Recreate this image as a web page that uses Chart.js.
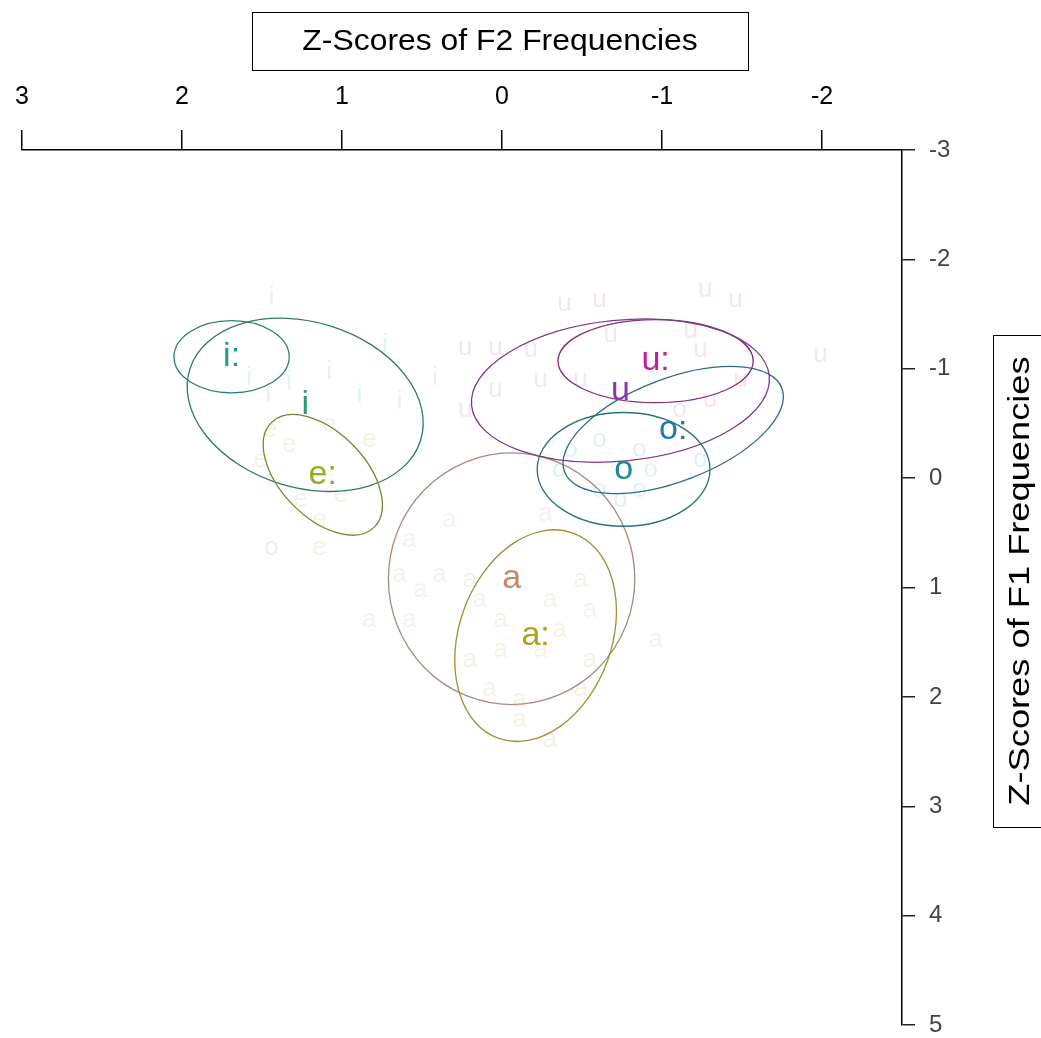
<!DOCTYPE html>
<html>
<head>
<meta charset="utf-8">
<script src="https://cdn.jsdelivr.net/npm/chart.js@4.4.0/dist/chart.umd.min.js"></script>
<style>
html, body { margin: 0; padding: 0; background: #fff; }
#wrap { width: 1041px; height: 1038px; position: relative; }
</style>
</head>
<body>
<div id="wrap"><canvas id="vowel-chart"></canvas></div>
<script>
// tick labels
var f2Ticks = [3, 2, 1, 0, -1, -2];
var f1Ticks = [-3, -2, -1, 0, 1, 2, 3, 4, 5];

// vowel categories, their means (F2 z, F1 z)
var vowels = ["i:", "i", "e:", "a", "a:", "u:", "u", "o:", "o"];
var meanF2 = [1.69, 1.23, 1.12, -0.06, -0.21, -0.96, -0.74, -1.07, -0.76];
var meanF1 = [-1.11, -0.67, -0.03, 0.92, 1.44, -1.07, -0.80, -0.44, -0.08];
// ellipse half axes as two conjugate vectors (z units)
var ellUx = [0.36, -0.72, -0.32, 0.77, -0.45, 0.61, -0.93, -0.68, 0.54];
var ellUy = [0.00, 0.33, 0.48, 0.00, 0.23, 0.00, -0.14, -0.38, 0.00];
var ellVx = [0.00, 0.16, 0.19, 0.00, 0.23, 0.00, -0.05, -0.11, 0.00];
var ellVy = [0.33, 0.72, 0.27, 1.15, 0.94, 0.38, 0.64, 0.44, 0.52];

var labelColors = ["#1f9a8c", "#2a9a6e", "#8cb020", "#c4876a", "#b0a020", "#c0209a", "#8a3aa8", "#1f78b4", "#1a8a8a"];
var ellipseColors = ["#2c7f74", "#2e7a66", "#6e8a2c", "#a58c80", "#9a9436", "#8a2a78", "#7a3a88", "#2f6a8a", "#2a7478"];

// individual tokens (faint)
var tokenVowel = ["i","i","i","i","i","i","i","i","i",
  "e:","e:","e:","e:","e:","e:","e:","e:","e:","o",
  "u","u:","u:","u:","u","u","u","u","u:","u:","u:","u","u","u","u","u:","u:","o:",
  "o","o","o:","o:","o","o:","o:","o","o",
  "a","a","a","a","a","a","a","a","a","a","a:","a:","a","a:","a:","a:","a:","a:","a:","a:","a:","a:","a:","a","a:"];
var tokenF2 = [1.44, 1.58, 1.33, 1.08, 0.89, 0.64, 0.42, 0.73, 1.46,
  1.45, 1.33, 1.08, 0.83, 1.26, 1.01, 1.14, 1.14, 1.51, 1.44,
  -0.39, -0.61, -1.27, -1.46, -1.99, 0.23, 0.04, -0.18, -0.68, -1.18, -1.24, -0.24, -0.49, 0.23, 0.04, -1.49, -1.30, -1.11,
  -0.61, -0.43, -0.86, -0.93, -0.61, -0.86, -1.24, -0.36, -0.74,
  0.33, 0.58, -0.27, 0.39, 0.64, 0.20, 0.51, 0.83, 0.58, 0.14, 0.01, -0.30, -0.55, 0.01, 0.20, 0.08, -0.11, -0.24, -0.36, -0.55, -0.49, -0.11, -0.30, -0.96, -0.49];
var tokenF1 = [-1.65, -0.92, -0.88, -0.97, -0.76, -0.70, -0.92, -1.22, -0.76,
  -0.44, -0.30, -0.49, -0.35, 0.20, 0.15, 0.38, 0.64, -0.17, 0.64,
  -1.59, -1.63, -1.72, -1.63, -1.13, -1.19, -1.19, -1.17, -1.31, -1.35, -1.17, -0.90, -0.90, -0.62, -0.81, -0.90, -0.72, -0.62,
  -0.35, -0.26, -0.26, -0.08, 0.11, 0.11, -0.17, -0.08, 0.20,
  0.38, 0.56, 0.33, 0.88, 0.88, 0.93, 1.02, 1.30, 1.30, 1.11, 1.30, 1.11, 1.20, 1.57, 1.66, 1.93, 2.03, 1.57, 1.39, 1.66, 1.93, 2.21, 2.39, 1.48, 0.93];

var fontFam = "'Liberation Sans', Arial, sans-serif";

function hexAlpha(hex, a) {
    var r = parseInt(hex.substr(1, 2), 16), g = parseInt(hex.substr(3, 2), 16), b = parseInt(hex.substr(5, 2), 16);
    return "rgba(" + r + "," + g + "," + b + "," + a + ")";
}

var tokenPoints = [];
for (let i = 0; i < tokenF2.length; i++) {
    tokenPoints.push({x: tokenF2[i], y: tokenF1[i]});
}
var meanPoints = [];
for (let i = 0; i < vowels.length; i++) {
    meanPoints.push({x: meanF2[i], y: meanF1[i]});
}

var vowelMarks = {
    id: "vowelMarks",
    beforeDatasetsDraw: function(chart) {
        var ctx = chart.ctx;
        var xs = chart.scales.x, ys = chart.scales.y;
        ctx.save();
        ctx.textAlign = "center";
        ctx.textBaseline = "middle";

        // faint tokens
        var tokMeta = chart.getDatasetMeta(0);
        ctx.font = "26px " + fontFam;
        tokMeta.data.forEach(function(pt, i) {
            var v = vowels.indexOf(tokenVowel[i]);
            ctx.fillStyle = hexAlpha(labelColors[v], 0.12);
            ctx.fillText(tokenVowel[i].replace(":", ""), pt.x, pt.y);
        });

        // ellipses
        for (let i = 0; i < vowels.length; i++) {
            var cx = xs.getPixelForValue(meanF2[i]), cy = ys.getPixelForValue(meanF1[i]);
            var ux = xs.getPixelForValue(meanF2[i] + ellUx[i]) - cx;
            var uy = ys.getPixelForValue(meanF1[i] + ellUy[i]) - cy;
            var vx = xs.getPixelForValue(meanF2[i] + ellVx[i]) - cx;
            var vy = ys.getPixelForValue(meanF1[i] + ellVy[i]) - cy;
            ctx.save();
            ctx.beginPath();
            ctx.transform(ux, uy, vx, vy, cx, cy);
            ctx.arc(0, 0, 1, 0, Math.PI * 2);
            ctx.restore();
            ctx.strokeStyle = ellipseColors[i];
            ctx.lineWidth = 1.3;
            ctx.stroke();
        }

        // mean labels
        var meanMeta = chart.getDatasetMeta(1);
        ctx.font = "34px " + fontFam;
        meanMeta.data.forEach(function(pt, i) {
            ctx.fillStyle = labelColors[i];
            ctx.fillText(vowels[i], pt.x, pt.y);
        });
        ctx.restore();
    },
    afterDraw: function(chart) {
        var ctx = chart.ctx;
        ctx.save();
        ctx.strokeStyle = "#000";
        ctx.lineWidth = 1;
        ctx.fillStyle = "#000";
        ctx.textAlign = "center";
        ctx.textBaseline = "middle";
        // top axis title box
        ctx.strokeRect(252.5, 12.5, 496, 58);
        ctx.save();
        ctx.translate(500, 42);
        ctx.scale(1.1, 1);
        ctx.font = "29px " + fontFam;
        ctx.fillText("Z-Scores of F2 Frequencies", 0, 0);
        ctx.restore();
        // right axis title box
        ctx.strokeRect(993.5, 335.5, 52, 492);
        ctx.translate(1021, 581);
        ctx.rotate(-Math.PI / 2);
        ctx.scale(1.25, 1);
        ctx.font = "29px " + fontFam;
        ctx.fillText("Z-Scores of F1 Frequencies", 0, 0);
        ctx.restore();
    }
};

var ctx1 = document.getElementById("vowel-chart").getContext("2d");
var myChart = new Chart(ctx1, {
    type: "scatter",
    data: {
        datasets: [
            { label: "tokens", data: tokenPoints, pointRadius: 0, pointHoverRadius: 0 },
            { label: "means", data: meanPoints, pointRadius: 0, pointHoverRadius: 0 }
        ]
    },
    options: {
        responsive: true,
        maintainAspectRatio: false,
        animation: false,
        events: [],
        layout: { padding: { left: 22, right: 0, top: 0, bottom: 13 } },
        plugins: { legend: { display: false }, tooltip: { enabled: false } },
        scales: {
            x: {
                type: "linear",
                position: "top",
                reverse: true,
                min: -2.5,
                max: 3,
                afterBuildTicks: function(s) { s.ticks = f2Ticks.map(function(v) { return {value: v}; }); },
                afterFit: function(s) { s.height = 150; s.paddingLeft = 0; s.paddingRight = 0; },
                grid: { drawOnChartArea: false, drawTicks: true, tickLength: 20, color: "#000", lineWidth: 1.5 },
                border: { display: true, color: "#000", width: 1.5 },
                ticks: { color: "#000", font: { size: 25, family: fontFam }, padding: 18, maxRotation: 0 }
            },
            y: {
                type: "linear",
                position: "right",
                reverse: true,
                min: -3,
                max: 5,
                afterBuildTicks: function(s) { s.ticks = f1Ticks.map(function(v) { return {value: v}; }); },
                afterFit: function(s) { s.width = 139; s.paddingTop = 0; s.paddingBottom = 0; },
                grid: { drawOnChartArea: false, drawTicks: true, tickLength: 13, color: "#222", lineWidth: 1.5 },
                border: { display: true, color: "#000", width: 1.5 },
                ticks: { color: "#444", font: { size: 24, family: fontFam }, padding: 14 }
            }
        }
    },
    plugins: [vowelMarks]
});
</script>
</body>
</html>
